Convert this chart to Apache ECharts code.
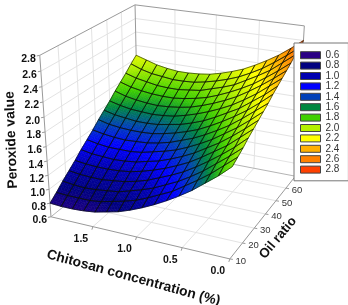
<!DOCTYPE html>
<html>
<head>
<meta charset="utf-8">
<style>html,body{margin:0;padding:0;background:#fff}#c{width:348px;height:305px;filter:blur(0.3px)}</style>
<script src="https://cdn.jsdelivr.net/npm/echarts@6/dist/echarts.min.js"></script>
</head>
<body>
<div id="c"></div>
<script>
// ---------- data ----------
const chitosanValues = [0,0.1333,0.2667,0.4,0.5333,0.6667,0.8,0.9333,1.0667,1.2,1.3333,1.4667,1.6,1.7333,1.8667,2];
const oilValues = [10,14,18,22,26,30,34,38,42,46,50,54,58,62,66,70];
// peroxide value: rows follow oilValues, columns follow chitosanValues
const peroxide = [
[1.82,1.67,1.54,1.41,1.30,1.20,1.11,1.03,.96,.90,.86,.82,.80,.79,.79,.80],
[1.87,1.73,1.59,1.47,1.36,1.25,1.17,1.09,1.02,.97,.93,.89,.87,.87,.87,.88],
[1.92,1.78,1.65,1.52,1.41,1.31,1.23,1.15,1.09,1.04,.99,.97,.95,.94,.95,.97],
[1.98,1.83,1.70,1.58,1.47,1.37,1.29,1.22,1.15,1.10,1.06,1.04,1.02,1.02,1.03,1.05],
[2.03,1.89,1.75,1.64,1.53,1.43,1.35,1.28,1.22,1.17,1.13,1.11,1.10,1.10,1.11,1.13],
[2.08,1.94,1.81,1.69,1.59,1.49,1.41,1.34,1.28,1.24,1.20,1.18,1.17,1.18,1.19,1.22],
[2.13,1.99,1.86,1.75,1.64,1.55,1.47,1.40,1.35,1.31,1.27,1.25,1.25,1.25,1.27,1.30],
[2.18,2.05,1.92,1.80,1.70,1.61,1.53,1.47,1.41,1.37,1.34,1.33,1.32,1.33,1.35,1.38],
[2.24,2.10,1.97,1.86,1.76,1.67,1.59,1.53,1.48,1.44,1.41,1.40,1.40,1.41,1.43,1.47],
[2.29,2.15,2.03,1.91,1.82,1.73,1.65,1.59,1.54,1.51,1.48,1.47,1.47,1.49,1.51,1.55],
[2.34,2.21,2.08,1.97,1.87,1.79,1.72,1.66,1.61,1.57,1.55,1.54,1.55,1.56,1.59,1.63],
[2.39,2.26,2.14,2.03,1.93,1.85,1.78,1.72,1.67,1.64,1.62,1.61,1.62,1.64,1.67,1.72],
[2.44,2.31,2.19,2.08,1.99,1.91,1.84,1.78,1.74,1.71,1.69,1.69,1.70,1.72,1.75,1.80],
[2.50,2.37,2.24,2.14,2.05,1.96,1.90,1.85,1.80,1.78,1.76,1.76,1.77,1.80,1.83,1.88],
[2.55,2.42,2.30,2.19,2.10,2.02,1.96,1.91,1.87,1.84,1.83,1.83,1.85,1.87,1.91,1.97],
[2.60,2.47,2.35,2.25,2.16,2.08,2.02,1.97,1.93,1.91,1.90,1.90,1.92,1.95,2.00,2.05]
];
const xTicks = [0.5,1.0,1.5];
const xTickLabels = ['0.0','0.5','1.0','1.5'];
const yTicks = [10,20,30,40,50,60];
const zTicks = [0.6,0.8,1.0,1.2,1.4,1.6,1.8,2.0,2.2,2.4,2.6,2.8];
const legendLevels = ['0.6','0.8','1.0','1.2','1.4','1.6','1.8','2.0','2.2','2.4','2.6','2.8'];
const legendColors = ['#2b0085','#000080','#0000b0','#0000ff','#0040b8','#008840','#40d000','#b4f000','#ffff00','#ffb000','#ff8000','#ff4000'];

// ---------- axis ranges and camera ----------
const X0=0,X1=2,Y0=10,Y1=70,Z0=0.6,Z1=2.8;
// calibration: where the box corners fall on the page [X,Y,Z,px,py]
const calib=[
 [1,0,0,52,217],[1,0,1,39,55],
 [0,0,0,229.5,259],
 [1,1,0,137,146],[1,1,1,136,5],
 [0,1,0,296,176],[0,1,1,304,26]
];
function solveCamera(){
  const A=[],b=[];
  calib.forEach(([X,Y,Z,u,v])=>{
    A.push([X,Y,Z,1,0,0,0,0,-u*X,-u*Y,-u*Z]);b.push(u);
    A.push([0,0,0,0,X,Y,Z,1,-v*X,-v*Y,-v*Z]);b.push(v);
  });
  const n=11,M=[];
  for(let i=0;i<n;i++){M.push([]);
    for(let j=0;j<n;j++){let s=0;A.forEach(r=>s+=r[i]*r[j]);M[i].push(s+(i===j?1e-9:0));}
    let s=0;A.forEach((r,k)=>s+=r[i]*b[k]);M[i].push(s);
  }
  for(let i=0;i<n;i++){
    let p=i;for(let k=i+1;k<n;k++)if(Math.abs(M[k][i])>Math.abs(M[p][i]))p=k;
    [M[i],M[p]]=[M[p],M[i]];
    for(let k=0;k<n;k++){if(k===i)continue;const f=M[k][i]/M[i][i];for(let j=i;j<=n;j++)M[k][j]-=f*M[i][j];}
  }
  return M.map((r,i)=>r[n]/r[i]);
}
const C=solveCamera();
function project(x,y,z){
  const X=(x-X0)/(X1-X0),Y=(y-Y0)/(Y1-Y0),Z=(z-Z0)/(Z1-Z0);
  const w=C[8]*X+C[9]*Y+C[10]*Z+1;
  return [(C[0]*X+C[1]*Y+C[2]*Z+C[3])/w,(C[4]*X+C[5]*Y+C[6]*Z+C[7])/w];
}

// ---------- colour ramp for the surface ----------
const rampZ=[0.72,0.92,1.1,1.27,1.42,1.57,1.72,1.93,2.12,2.33,2.48,2.62];
function rampColor(z){
  if(z<=rampZ[0])return legendColors[0];
  for(let i=1;i<rampZ.length;i++){
    if(z<=rampZ[i])return echarts.color.lerp((z-rampZ[i-1])/(rampZ[i]-rampZ[i-1]),[legendColors[i-1],legendColors[i]]);
  }
  return legendColors[legendColors.length-1];
}

// ---------- marks ----------
const cells=[];
for(let k=oilValues.length-2;k>=0;k--)for(let j=chitosanValues.length-2;j>=0;j--)cells.push([j,k]);
const SUB=4;

function renderSurface(params,api){
  const j=api.value(0),k=api.value(1);
  const xa=chitosanValues[j],xb=chitosanValues[j+1],ya=oilValues[k],yb=oilValues[k+1];
  const z00=peroxide[k][j],z10=peroxide[k][j+1],z01=peroxide[k+1][j],z11=peroxide[k+1][j+1];
  const at=(s,t)=>{
    const z=(1-s)*(1-t)*z00+s*(1-t)*z10+(1-s)*t*z01+s*t*z11;
    return {p:api.coord(project(xa+(xb-xa)*s,ya+(yb-ya)*t,z)),z};
  };
  const children=[];
  for(let b=SUB-1;b>=0;b--)for(let a=SUB-1;a>=0;a--){
    const q=[at(a/SUB,b/SUB),at((a+1)/SUB,b/SUB),at((a+1)/SUB,(b+1)/SUB),at(a/SUB,(b+1)/SUB)];
    const col=rampColor((q[0].z+q[1].z+q[2].z+q[3].z)/4);
    children.push({type:'polygon',shape:{points:q.map(o=>o.p)},style:{fill:col,stroke:col,lineWidth:0.6},silent:true});
  }
  return {type:'group',children};
}
function renderMesh(params,api){
  const j=api.value(0),k=api.value(1);
  const pts=[[j,k],[j+1,k],[j+1,k+1],[j,k+1]].map(([a,b])=>api.coord(project(chitosanValues[a],oilValues[b],peroxide[b][a])));
  return {type:'polygon',shape:{points:pts},style:{fill:'none',stroke:'rgba(10,15,5,0.85)',lineWidth:0.7},silent:true};
}
function renderFrame(params,api){
  const ch=[];
  const line=(a,b,stroke,w)=>{
    const p=api.coord(a),q=api.coord(b);
    ch.push({type:'line',shape:{x1:p[0],y1:p[1],x2:q[0],y2:q[1]},style:{stroke,lineWidth:w},silent:true});
  };
  const text=(s,p,font,fill,align)=>{
    ch.push({type:'text',x:p[0],y:p[1],style:{text:s,font,fill,textAlign:align||'center',textVerticalAlign:'middle'},silent:true});
  };
  const GRID='#e3e3e3',EDGE='#9a9a9a';
  // wall and floor grid
  zTicks.slice(1,-1).forEach(z=>{
    line(project(X1,Y0,z),project(X1,Y1,z),GRID,1);
    line(project(X1,Y1,z),project(X0,Y1,z),GRID,1);
  });
  yTicks.slice(1).forEach(y=>{
    line(project(X1,y,Z0),project(X1,y,Z1),GRID,1);
    line(project(X0,y,Z0),project(X1,y,Z0),GRID,1);
  });
  xTicks.forEach(x=>{
    line(project(x,Y1,Z0),project(x,Y1,Z1),GRID,1);
    line(project(x,Y0,Z0),project(x,Y1,Z0),GRID,1);
  });
  // box edges
  line(project(X1,Y0,Z0),project(X1,Y0,Z1),EDGE,1);
  line(project(X1,Y0,Z1),project(X1,Y1,Z1),EDGE,1);
  line(project(X1,Y1,Z1),project(X0,Y1,Z1),EDGE,1);
  line(project(X1,Y1,Z0),project(X1,Y1,Z1),EDGE,1);
  line(project(X0,Y1,Z0),project(X0,Y1,Z1),EDGE,1);
  line(project(X1,Y1,Z0),project(X0,Y1,Z0),'#b4b4b4',1);
  line(project(X1,Y0,Z0),project(X1,Y1,Z0),'#b4b4b4',1);
  line(project(X1,Y0,Z0),project(X0,Y0,Z0),EDGE,1);
  line(project(X0,Y0,Z0),project(X0,Y1,Z0),EDGE,1);
  // z axis
  zTicks.forEach(z=>{
    const p=project(X1,Y0,z);
    line(p,[p[0]-3,p[1]+0.6],EDGE,1);
    text(z.toFixed(1),[p[0]-4,p[1]+3.5],'bold 10.5px "Liberation Sans",Arial,sans-serif','#111','right');
  });
  // x axis
  xTickLabels.forEach(s=>{
    const p=project(+s,Y0,Z0);
    line(p,[p[0]-1,p[1]+3],EDGE,1);
    text(s,[p[0]-12,p[1]+12],'bold 10.5px "Liberation Sans",Arial,sans-serif','#111');
  });
  // y axis
  yTicks.forEach(y=>{
    const p=project(X0,y,Z0);
    line(p,[p[0]+3,p[1]+0.5],EDGE,1);
    text(String(y),[p[0]+11,p[1]+2.5],'9.5px "Liberation Sans",Arial,sans-serif','#333');
  });
  return {type:'group',children:ch};
}

const legendSeries=legendLevels.map((name,i)=>({name,type:'line',data:[],itemStyle:{color:legendColors[i]}}));

const chart=echarts.init(document.getElementById('c'),null,{renderer:'canvas'});
const titleFont='bold 13.8px "Liberation Sans",Arial,sans-serif';
chart.setOption({
  animation:false,
  backgroundColor:'#fff',
  grid:{left:0,right:0,top:0,bottom:0},
  xAxis:{type:'value',min:0,max:348,show:false},
  yAxis:{type:'value',min:0,max:305,inverse:true,show:false},
  legend:{
    orient:'vertical',left:294,top:43,padding:[7,9,6,6],itemWidth:20,itemHeight:7,itemGap:0,
    selectedMode:false,icon:'rect',z:20,
    backgroundColor:'#fff',borderColor:'#777',borderWidth:1,
    textStyle:{fontSize:10,color:'#333',fontFamily:'"Liberation Sans",Arial,sans-serif',lineHeight:10.4,padding:[0,0,0,0]},
    itemStyle:{borderColor:'#444',borderWidth:1},
    data:legendLevels.map(name=>({name}))
  },
  graphic:[
    {type:'text',x:11.5,y:140,rotation:92*Math.PI/180,silent:true,z:5,
     style:{text:'Peroxide value',font:titleFont,fill:'#111',textAlign:'center',textVerticalAlign:'middle'}},
    {type:'text',x:133.5,y:278,rotation:-15.3*Math.PI/180,silent:true,z:5,
     style:{text:'Chitosan concentration (%)',font:titleFont,fill:'#111',textAlign:'center',textVerticalAlign:'middle'}},
    {type:'text',x:278,y:238,rotation:50*Math.PI/180,silent:true,z:5,
     style:{text:'Oil ratio',font:'bold 13.3px "Liberation Sans",Arial,sans-serif',fill:'#111',textAlign:'center',textVerticalAlign:'middle'}}
  ],
  series:[
    {type:'custom',name:'frame',coordinateSystem:'cartesian2d',renderItem:renderFrame,data:[[0,0]],z:1,clip:false,silent:true},
    {type:'custom',name:'surface',coordinateSystem:'cartesian2d',renderItem:renderSurface,data:cells,z:2,clip:false,silent:true},
    {type:'custom',name:'mesh',coordinateSystem:'cartesian2d',renderItem:renderMesh,data:cells,z:3,clip:false,silent:true}
  ].concat(legendSeries)
});
</script>
</body>
</html>
